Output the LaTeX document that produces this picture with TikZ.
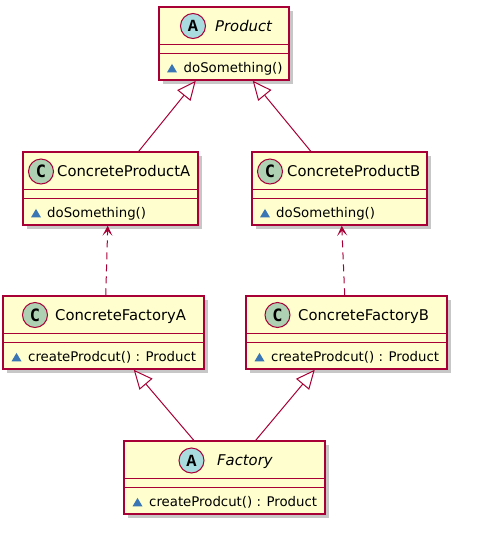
\documentclass[tikz,border=0pt]{standalone}
\usepackage{fontspec}
\setmainfont{DejaVu Sans}
\newfontfamily\letterfontA{Liberation Mono}
\newfontfamily\letterfontC{DejaVu Sans Mono}
\usetikzlibrary{arrows.meta,shadows,calc}
\definecolor{boxfill}{HTML}{FEFECE}
\definecolor{boxline}{HTML}{A80036}
\definecolor{cfillC}{HTML}{ADD1B2}
\definecolor{cfillA}{HTML}{A9DCDF}
\definecolor{visblue}{HTML}{3A75B5}
\tikzset{
  classbox/.style={draw=boxline, fill=boxfill, line width=1.5pt, inner sep=0pt,
    minimum height=73pt,
    drop shadow={shadow xshift=3.5pt, shadow yshift=-3.5pt, fill=black, opacity=0.22}},
  divider/.style={draw=boxline, line width=1.5pt},
  circ/.style={circle, draw=boxline, line width=1pt, minimum size=25pt, inner sep=0pt,
    font=\fontsize{17pt}{19pt}\selectfont\bfseries},
  cname/.style={anchor=base west, inner sep=0pt, font=\fontsize{14.8pt}{17pt}\selectfont},
  aname/.style={anchor=base west, inner sep=0pt, font=\fontsize{14.8pt}{17pt}\selectfont\itshape},
  member/.style={anchor=base west, inner sep=0pt, font=\fontsize{13.3pt}{16pt}\selectfont},
  vis/.style={fill=visblue},
  generalize/.style={draw=boxline, line width=1pt,
    -{Triangle[open, length=19pt, width=17pt, fill=white]}},
  depend/.style={draw=boxline, line width=1pt, dash pattern=on 7pt off 5pt,
    -{Stealth[length=10pt, width=10pt, inset=5pt]}},
}
\begin{document}
\begin{tikzpicture}[x=1pt, y=-1pt]
\useasboundingbox (0,0) rectangle (480,542);

% ---------- Product ----------
\node[classbox, minimum width=130pt] (P) at (224,43.5) {};
\draw[divider] ($(P.north west)+(0,38)$) -- ($(P.north east)+(0,38)$);
\draw[divider] ($(P.north west)+(0,47)$) -- ($(P.north east)+(0,47)$);
\node[circ, fill=cfillA] (Pc) at (193,26) {\letterfontA A};
\node[aname] (Pt) at (215,31) {Product};
\fill[vis] (167,72.4) -- (177,72.4) -- (172,63.9) -- cycle;
\node[member] (Pm) at (183.5,72.4) {doSomething()};

% ---------- ConcreteProductA ----------
\node[classbox, minimum width=175pt] (CPA) at (110.5,188.5) {};
\draw[divider] ($(CPA.north west)+(0,38)$) -- ($(CPA.north east)+(0,38)$);
\draw[divider] ($(CPA.north west)+(0,47)$) -- ($(CPA.north east)+(0,47)$);
\node[circ, fill=cfillC] (CPAc) at (41,171.5) {\letterfontC C};
\node[cname] (CPAt) at (57,176.5) {ConcreteProductA};
\fill[vis] (31,217.4) -- (41,217.4) -- (36,208.9) -- cycle;
\node[member] (CPAm) at (47,217.4) {doSomething()};

% ---------- ConcreteProductB ----------
\node[classbox, minimum width=175pt] (CPB) at (339.5,188.5) {};
\draw[divider] ($(CPB.north west)+(0,38)$) -- ($(CPB.north east)+(0,38)$);
\draw[divider] ($(CPB.north west)+(0,47)$) -- ($(CPB.north east)+(0,47)$);
\node[circ, fill=cfillC] (CPBc) at (270,171.5) {\letterfontC C};
\node[cname] (CPBt) at (287,176.5) {ConcreteProductB};
\fill[vis] (260,217.4) -- (270,217.4) -- (265,208.9) -- cycle;
\node[member] (CPBm) at (276,217.4) {doSomething()};

% ---------- ConcreteFactoryA ----------
\node[classbox, minimum width=201pt] (CFA) at (103.5,332.5) {};
\draw[divider] ($(CFA.north west)+(0,38)$) -- ($(CFA.north east)+(0,38)$);
\draw[divider] ($(CFA.north west)+(0,47)$) -- ($(CFA.north east)+(0,47)$);
\node[circ, fill=cfillC] (CFAc) at (35,315) {\letterfontC C};
\node[cname] (CFAt) at (55,320.5) {ConcreteFactoryA};
\fill[vis] (11.5,361.4) -- (21.5,361.4) -- (16.5,352.9) -- cycle;
\node[member] (CFAm) at (28,361.4) {createProdcut() : Product};

% ---------- ConcreteFactoryB ----------
\node[classbox, minimum width=201pt] (CFB) at (346.5,332.5) {};
\draw[divider] ($(CFB.north west)+(0,38)$) -- ($(CFB.north east)+(0,38)$);
\draw[divider] ($(CFB.north west)+(0,47)$) -- ($(CFB.north east)+(0,47)$);
\node[circ, fill=cfillC] (CFBc) at (277.5,315) {\letterfontC C};
\node[cname] (CFBt) at (298,320.5) {ConcreteFactoryB};
\fill[vis] (254.5,361.4) -- (264.5,361.4) -- (259.5,352.9) -- cycle;
\node[member] (CFBm) at (271,361.4) {createProdcut() : Product};

% ---------- Factory ----------
\node[classbox, minimum width=201pt] (F) at (224.5,477.5) {};
\draw[divider] ($(F.north west)+(0,38)$) -- ($(F.north east)+(0,38)$);
\draw[divider] ($(F.north west)+(0,47)$) -- ($(F.north east)+(0,47)$);
\node[circ, fill=cfillA] (Fc) at (191.5,460.5) {\letterfontA A};
\node[aname] (Ft) at (217,465.5) {Factory};
\fill[vis] (132.5,506.4) -- (142.5,506.4) -- (137.5,497.9) -- cycle;
\node[member] (Fm) at (149,506.4) {createProdcut() : Product};

% ---------- connectors ----------
\draw[generalize] ($(CPA.north west)+(116.5,0)$) -- ($(P.south west)+(37.5,0)$);
\draw[generalize] ($(CPB.north west)+(59.5,0)$) -- ($(P.south west)+(94.5,0)$);
\draw[depend] ($(CFA.north west)+(103.5,0)$) -- ($(CPA.south west)+(85.5,0)$);
\draw[depend] ($(CFB.north west)+(99.5,0)$) -- ($(CPB.south west)+(90.5,0)$);
\draw[generalize] ($(F.north west)+(70.5,0)$) -- ($(CFA.south west)+(131.5,0)$);
\draw[generalize] ($(F.north west)+(132.5,0)$) -- ($(CFB.south west)+(69.5,0)$);
\end{tikzpicture}
\end{document}
